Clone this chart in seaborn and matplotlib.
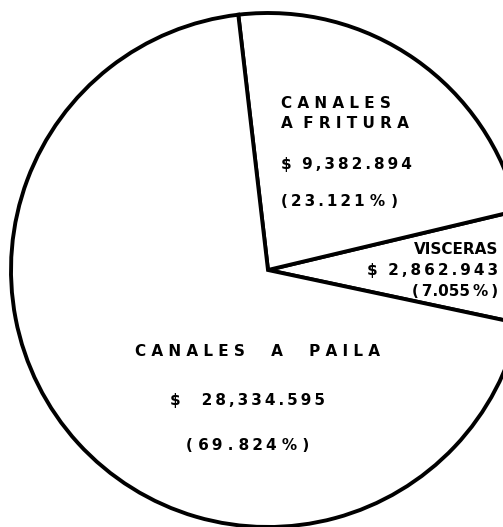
import matplotlib
matplotlib.use("Agg")
import matplotlib.pyplot as plt
import seaborn as sns

# Data
categories = ["VISCERAS", "CANALES A FRITURA", "CANALES A PAILA"]
amounts = [2862.943, 9382.894, 28334.595]
amount_text = ["2,862.943", "9,382.894", "28,334.595"]
pct_text = ["7.055", "23.121", "69.824"]

sns.set_theme(style="white")
plt.rcParams['font.family'] = ['DejaVu Sans']

W, H = 503, 527
fig = plt.figure(figsize=(W / 100, H / 100), dpi=100)
fig.patch.set_facecolor("white")
ax = fig.add_axes([0, 0, 1, 1])

cx, cy, r = 268, 270, 257
ax.pie(amounts, startangle=-12, counterclock=True,
       colors=["white"] * 3,
       wedgeprops=dict(edgecolor="black", linewidth=2.8),
       radius=1.0, frame=False)
ax.set_xlim(-cx / r, (W - cx) / r)
ax.set_ylim(-(H - cy) / r, cy / r)
ax.set_aspect("auto")
ax.axis("off")

TH = "\u2009"  # thin space used as letter spacing


def track(s, sp=TH):
    return sp.join(s)


def put(px, py, s, size=11, ha="left"):
    fig.text(px / W, 1 - py / H, s, ha=ha, va="center", fontsize=size,
             fontweight="bold", color="black")

# Canales a fritura
put(281, 104, "C A N A L E S")
put(281, 124, "A  F R I T U R A")
put(281, 164, "$  " + track(amount_text[1]))
put(281, 201, "(" + TH + track(pct_text[1]) + " %" + TH + TH + ")")
# Visceras
put(498, 250, "VISCERAS", ha="right")
put(498, 270, "$  " + track(amount_text[0]), ha="right")
put(498, 292, "(" + TH + pct_text[0] + TH + "%" + TH + ")", ha="right")
# Canales a paila
put(135, 352, "C A N A L E S     A     P A I L A")
put(170, 401, "$    " + track(amount_text[2]))
put(186, 445, "( " + track(pct_text[2][:2]) + " . " + track(pct_text[2][3:]) + " % )")

fig.savefig("out.png", dpi=100, facecolor="white")
